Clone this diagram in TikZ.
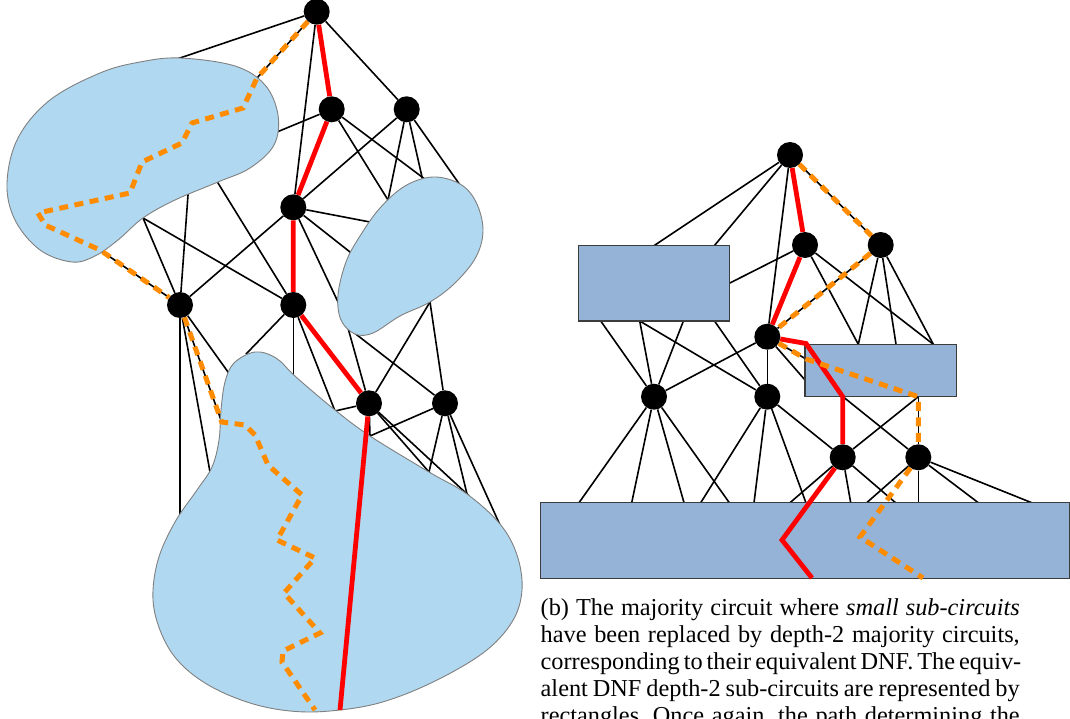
\documentclass[tikz,border=0pt]{standalone}
\usepackage{fontspec}
\setmainfont{Liberation Serif}
\frenchspacing
\definecolor{blobfill}{RGB}{176,216,240}
\definecolor{blobline}{RGB}{128,128,128}
\definecolor{boxfill}{RGB}{149,179,215}
\definecolor{boxline}{RGB}{60,60,60}
\definecolor{pathred}{RGB}{255,0,0}
\definecolor{pathorange}{RGB}{255,140,0}
\begin{document}
\begin{tikzpicture}[x=1pt,y=-1pt,
  gate/.style={circle,fill=black,inner sep=0pt,minimum size=26pt},
  wire/.style={line width=1.6pt,black},
  toshape/.style={wire,shorten >=-3pt},
  redp/.style={line width=4.8pt,color=pathred,line join=miter},
  orp/.style={line width=5pt,color=pathorange,dash pattern=on 9pt off 6.5pt},
  blob/.style={fill=blobfill,draw=blobline,line width=0.9pt},
  rbox/.style={fill=boxfill,draw=boxline,line width=1.2pt},
  capline/.style={anchor=base west,inner sep=0pt,font=\fontsize{24.3}{27}\selectfont}
]
\useasboundingbox (0,0) rectangle (1070,719);
\clip (0,0) rectangle (1070,719);

% ---------------- left circuit ----------------
\node[gate] (L0) at (316.7,11.7) {};
\node[gate] (L1) at (331.7,109.3) {};
\node[gate] (L2) at (406.7,109.3) {};
\node[gate] (L3) at (293.3,207.3) {};
\node[gate] (L4) at (180,305) {};
\node[gate] (L5) at (293.3,305) {};
\node[gate] (L6) at (369,403.3) {};
\node[gate] (L7) at (445,403.3) {};

\coordinate (aT) at (180,58);
\coordinate (aE) at (257,78);
\coordinate (aR) at (277,132);
\coordinate (aB1) at (218,183);
\coordinate (aB2) at (188,195);
\coordinate (aB3) at (143,218);
\coordinate (aX) at (100,250);
\coordinate (bP1) at (388,200);
\coordinate (bP2) at (422,177);
\coordinate (bP3) at (460,185);
\coordinate (bP4) at (370,222);
\coordinate (bP5) at (350,252);
\coordinate (bP6) at (338,302);
\coordinate (bB1) at (348,328);
\coordinate (bB2) at (430,302);
\coordinate (cP1) at (180,513);
\coordinate (cP2) at (210,472);
\coordinate (cP3) at (221.7,422);
\coordinate (cP4) at (228,372);
\coordinate (cP5) at (248,352);
\coordinate (cP6) at (293.3,374);
\coordinate (cP7) at (335,411);
\coordinate (cP8) at (370,436);
\coordinate (cP9) at (429,472);
\coordinate (cP10) at (467,494);
\coordinate (cP11) at (500,525);
\coordinate (cBot) at (340,710);

\draw[toshape] (L0) -- (aT);
\draw[toshape] (L0) -- (aE);
\draw[wire] (L0) -- (L3);
\draw[wire] (L0) -- (L2);
\draw[toshape] (L1) -- (aR);
\draw[toshape] (L1) -- (bP1);
\draw[toshape] (L1) -- (bP2);
\draw[wire] (L2) -- (L3);
\draw[toshape] (L2) -- (bP1);
\draw[toshape] (L2) -- (bP2);
\draw[toshape] (L2) -- (bP3);
\draw[wire] (L3) -- (L4);
\draw[toshape] (L3) -- (bP4);
\draw[toshape] (L3) -- (bP5);
\draw[toshape] (L3) -- (bP6);
\draw[toshape] (L5) -- (aB1);
\draw[toshape] (L4) -- (aB2);
\draw[toshape] (L4) -- (aB3);
\draw[toshape] (L5) -- (aB3);
\draw[toshape] (L4) -- (aX);
\draw[toshape] (L4) -- (cP1);
\draw[toshape] (L4) -- (cP2);
\draw[toshape] (L4) -- (cP3);
\draw[toshape] (L4) -- (cP4);
\draw[toshape] (L5) -- (cP5);
\draw[toshape] (L5) -- (cP6);
\draw[toshape] (L5) -- (cP7);
\draw[toshape] (L6) -- (cP7);
\draw[toshape] (L6) -- (cP8);
\draw[toshape] (L7) -- (cP8);
\draw[toshape] (L6) -- (cP9);
\draw[toshape] (L7) -- (cP9);
\draw[toshape] (L6) -- (cP10);
\draw[toshape] (L7) -- (cP10);
\draw[toshape] (L7) -- (cP11);
\draw[toshape] (L6) -- (bB1);
\draw[toshape] (L7) -- (bB1);
\draw[toshape] (L6) -- (bB2);
\draw[toshape] (L7) -- (bB2);

% blobs
\draw[blob] plot[smooth cycle,tension=0.6] coordinates {(180,58) (235,66) (265,85) (278,115) (274,145) (250,168) (218,182) (175,200) (143,218) (118,240) (95,256) (72,262) (40,250) (15,220) (7,183) (18,138) (50,100) (100,73) (140,62)};
\draw[blob] plot[smooth cycle,tension=0.6] coordinates {(433,177) (460,184) (476,202) (483,230) (476,257) (455,283) (430,302) (400,316) (373,333) (355,334) (341,320) (338,295) (346,262) (360,236) (380,208) (405,186)};
\draw[blob] plot[smooth cycle,tension=0.6] coordinates {(255,352) (276,358) (296,377) (335,410) (370,436) (429,472) (467,494) (500,524) (517,555) (522,590) (512,622) (483,653) (431,683) (379,703) (330,711) (290,711) (250,703) (210,686) (180,663) (162,635) (153,600) (158,560) (175,522) (197,490) (212,467) (219,440) (221,410) (225,382) (234,363)};

% paths
\draw[redp] (L0) -- (L1) -- (L3) -- (L5) -- (L6) -- (cBot);
\draw[orp] (L0) -- (aE) -- (243,108) -- (192,123) -- (182,143) -- (142,162) -- (130,193) -- (38,213) -- (45,225) -- (aX) -- (L4) -- (cP3) -- (245,425) -- (255,435) -- (268,465) -- (278,474) -- (302,495) -- (277,540) -- (315,558) -- (284,593) -- (320,633) -- (283,651) -- (282,662) -- (315,710);

% ---------------- right circuit ----------------
\node[gate] (R0) at (790,155) {};
\node[gate] (R1) at (805,245) {};
\node[gate] (R2) at (880.7,245) {};
\node[gate] (R3) at (767.3,336.7) {};
\node[gate] (M1) at (654,396.7) {};
\node[gate] (M2) at (767.3,396.7) {};
\node[gate] (N1) at (842.7,457.3) {};
\node[gate] (N2) at (918.3,457.3) {};

\coordinate (rAt1) at (654,245.7);
\coordinate (rAt2) at (714.3,245.7);
\coordinate (rAr) at (729.3,283.3);
\coordinate (rAb1) at (600.7,321);
\coordinate (rAb2) at (639.7,321);
\coordinate (rAb3) at (683.4,321);
\coordinate (rAb4) at (714.5,321);
\coordinate (rBt1) at (858.3,344.3);
\coordinate (rBt2) at (896,344.3);
\coordinate (rBt3) at (933.3,344.3);
\coordinate (rBl1) at (806,359);
\coordinate (rBl2) at (805,380);
\coordinate (rBb1) at (843,396.7);
\coordinate (rBb2) at (918.3,396.7);
\coordinate (rCt1) at (579,502.7);
\coordinate (rCt2) at (631.7,502.7);
\coordinate (rCt3) at (684,502.7);
\coordinate (rCt4) at (729.3,502.7);
\coordinate (rCt5) at (700.7,502.7);
\coordinate (rCt6) at (754,502.7);
\coordinate (rCt7) at (805.9,502.7);
\coordinate (rCt8) at (790,502.7);
\coordinate (rCt9) at (850.7,502.7);
\coordinate (rCt10) at (895.5,502.7);
\coordinate (rCt11) at (866.7,502.7);
\coordinate (rCt12) at (918.3,502.7);
\coordinate (rCt13) at (978.3,502.7);
\coordinate (rCt14) at (1031.7,502.7);
\coordinate (rRc) at (806,343.5);

\draw[toshape] (R0) -- (rAt1);
\draw[toshape] (R0) -- (rAt2);
\draw[wire] (R0) -- (R3);
\draw[wire] (R0) -- (R2);
\draw[toshape] (R1) -- (rAr);
\draw[toshape] (R1) -- (rBt1);
\draw[toshape] (R1) -- (rBt3);
\draw[wire] (R2) -- (R3);
\draw[toshape] (R2) -- (rBt1);
\draw[toshape] (R2) -- (rBt2);
\draw[toshape] (R2) -- (rBt3);
\draw[wire] (R3) -- (M1);
\draw[wire] (R3) -- (M2);
\draw[toshape] (R3) -- (rBl1);
\draw[toshape] (R3) -- (rBl2);
\draw[toshape] (M1) -- (rAb1);
\draw[toshape] (M1) -- (rAb2);
\draw[toshape] (M2) -- (rAb2);
\draw[toshape] (M1) -- (rAb3);
\draw[toshape] (M2) -- (rAb4);
\draw[toshape] (M1) -- (rCt1);
\draw[toshape] (M1) -- (rCt2);
\draw[toshape] (M1) -- (rCt3);
\draw[toshape] (M1) -- (rCt4);
\draw[toshape] (M2) -- (rCt5);
\draw[toshape] (M2) -- (rCt6);
\draw[toshape] (M2) -- (rCt7);
\draw[wire] (M2) -- (N1);
\draw[toshape] (N1) -- (rCt8);
\draw[toshape] (N1) -- (rCt9);
\draw[toshape] (N1) -- (rCt10);
\draw[toshape] (N1) -- (rBb2);
\draw[toshape] (N2) -- (rBb1);
\draw[toshape] (N2) -- (rBb2);
\draw[toshape] (N2) -- (rCt11);
\draw[toshape] (N2) -- (rCt12);
\draw[toshape] (N2) -- (rCt13);
\draw[toshape] (N2) -- (rCt14);

% rectangles
\draw[rbox] (578.3,245.7) rectangle (729.3,321);
\draw[rbox] (805,344.3) rectangle (956.7,396.7);
\draw[rbox] (540.7,502.7) rectangle (1069.3,578.3);

% paths
\draw[redp] (R0) -- (R1) -- (R3) -- (rRc) -- (842.7,396.7) -- (N1) -- (782,540) -- (812,578);
\draw[orp] (R0) -- (R2) -- (R3) -- (rBl1) -- (rBb2) -- (N2) -- (860,537) -- (923,578);

% ---------------- caption ----------------
\node[capline] (c1) at (540.5,615.7) {\makebox[479pt][s]{(b) The majority circuit where \textit{small sub-circuits}}};
\node[capline] (c2) at (540.5,642.7) {\makebox[479pt][s]{have been replaced by depth-2 majority circuits,}};
\node[capline] (c3) at (540.5,669.7) {\makebox[479pt][s]{corresponding to their equivalent DNF. The equiv-}};
\node[capline] (c4) at (540.5,696.7) {\makebox[479pt][s]{alent DNF depth-2 sub-circuits are represented by}};
\node[capline] (c5) at (540.5,723.7) {\makebox[479pt][s]{rectangles. Once again, the path determining the}};
\end{tikzpicture}
\end{document}
